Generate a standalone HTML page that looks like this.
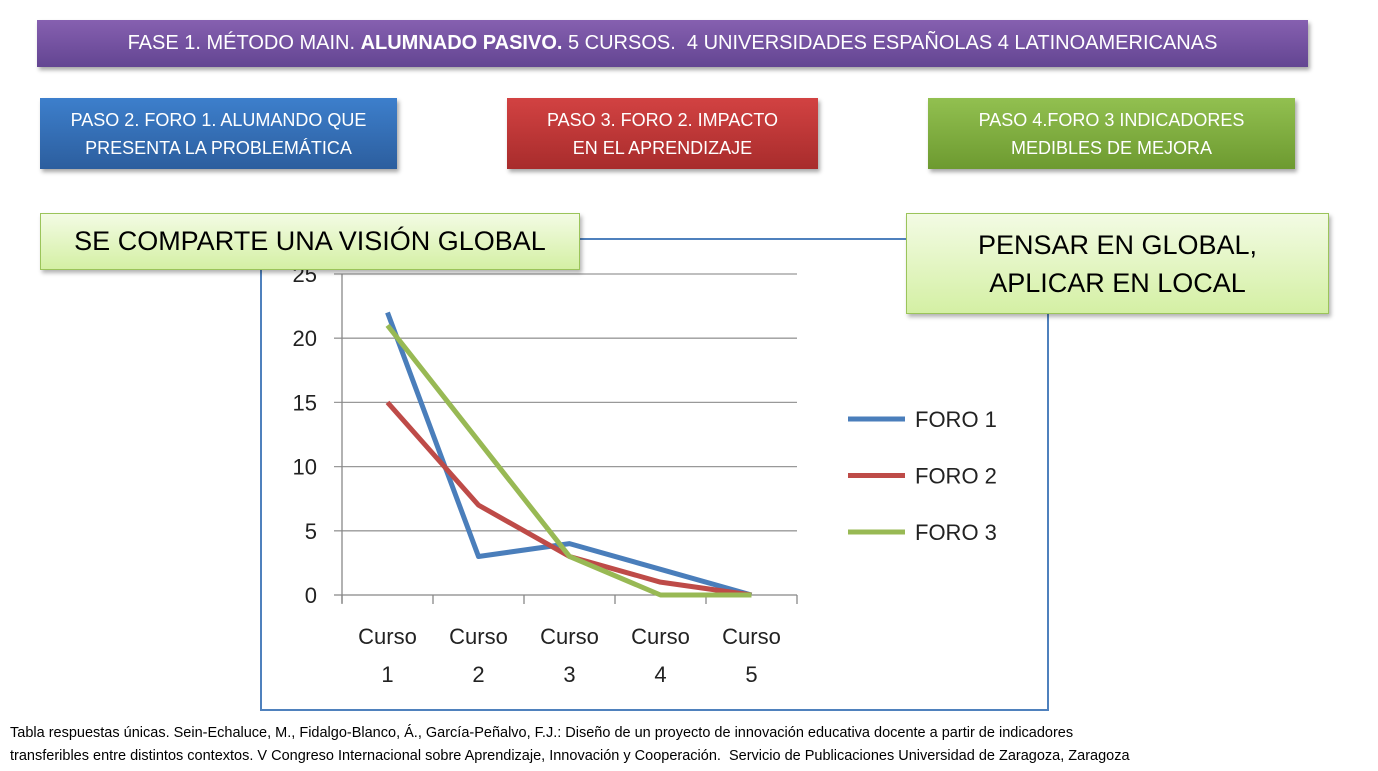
<!DOCTYPE html>
<html><head><meta charset="utf-8"><style>
body{margin:0;width:1378px;height:771px;background:#fff;position:relative;overflow:hidden;font-family:"Liberation Sans",sans-serif}
.box{position:absolute;color:#fff;text-align:center;display:flex;align-items:center;justify-content:center;box-shadow:2px 3px 4px rgba(0,0,0,0.35);box-sizing:border-box}
.green{position:absolute;background:linear-gradient(#f3fbe4,#d4f0a4);border:1px solid #9bc45a;color:#000;display:flex;align-items:center;justify-content:center;text-align:center;box-sizing:border-box;box-shadow:2px 3px 4px rgba(0,0,0,0.3)}
</style></head><body>
<div class="box" style="left:37px;top:20px;width:1271px;height:47px;background:linear-gradient(#8660b0,#634592);font-size:20px">FASE 1. MÉTODO MAIN.&nbsp;<b>ALUMNADO PASIVO.</b>&nbsp;5 CURSOS.&nbsp; 4 UNIVERSIDADES ESPAÑOLAS 4 LATINOAMERICANAS</div>
<div class="box" style="left:40px;top:98px;width:357px;height:71px;background:linear-gradient(#3d7fcc,#2c5e9e);font-size:18px;line-height:28px">PASO 2. FORO 1. ALUMANDO QUE<br>PRESENTA LA PROBLEMÁTICA</div>
<div class="box" style="left:507px;top:98px;width:311px;height:71px;background:linear-gradient(#d24242,#a82c2c);font-size:18px;line-height:28px">PASO 3. FORO 2. IMPACTO<br>EN EL APRENDIZAJE</div>
<div class="box" style="left:928px;top:98px;width:367px;height:71px;background:linear-gradient(#92c050,#6d9a30);font-size:18px;line-height:28px">PASO 4.FORO 3 INDICADORES<br>MEDIBLES DE MEJORA</div>
<svg id="chart" width="1378" height="771" style="position:absolute;left:0;top:0">
<rect x="261" y="239" width="787" height="471" fill="none" stroke="#4f81bd" stroke-width="2"/>
<g id="grid"></g><g id="lines"></g><g id="legend"></g>
</svg>
<div class="green" style="left:40px;top:213px;width:540px;height:57px;font-size:27px">SE COMPARTE UNA VISIÓN GLOBAL</div>
<div class="green" style="left:906px;top:213px;width:423px;height:101px;font-size:27px;line-height:38px">PENSAR EN GLOBAL,<br>APLICAR EN LOCAL</div>
<div style="position:absolute;left:10px;top:722px;font-size:14.5px;line-height:23px;color:#000;white-space:nowrap">Tabla respuestas únicas. Sein-Echaluce, M., Fidalgo-Blanco, Á., García-Peñalvo, F.J.: Diseño de un proyecto de innovación educativa docente a partir de indicadores<br>transferibles entre distintos contextos. V Congreso Internacional sobre Aprendizaje, Innovación y Cooperación.&nbsp; Servicio de Publicaciones Universidad de Zaragoza, Zaragoza</div>
<script>
const categories=["Curso 1","Curso 2","Curso 3","Curso 4","Curso 5"];
const foro1=[22,3,4,2,0];
const foro2=[15,7,3,1,0];
const foro3=[21,12,3,0,0];
const yTicks=[0,5,10,15,20,25];
const seriesNames=["FORO 1","FORO 2","FORO 3"];
const colors=["#4a7ebb","#be4b48","#98b954"];
const NS="http://www.w3.org/2000/svg";
const x0=342,x1=797,y0=595,y1=274,ymax=25;
const xs=i=>x0+(x1-x0)/categories.length*(i+0.5);
const ys=v=>y0-(y0-y1)*v/ymax;
function mk(t,a,p){const e=document.createElementNS(NS,t);for(const k in a)e.setAttribute(k,a[k]);p.appendChild(e);return e;}
const g=document.getElementById('grid');
yTicks.forEach(v=>{
 const l=mk('line',{x1:x0-8,x2:x1,y1:ys(v),y2:ys(v),stroke:v?'#999':'#888','stroke-width':1.3},g);
 
 
 const t=mk('text',{x:x0-25,y:ys(v)+8,'text-anchor':'end','font-size':22,fill:'#222'},g);
 t.textContent=v;
 
 
});
mk('line',{x1:x0,x2:x0,y1:y1,y2:y0+8,stroke:'#888','stroke-width':1.3},g);
for(let i=0;i<=categories.length;i++){const x=x0+(x1-x0)/categories.length*i;mk('line',{x1:x,x2:x,y1:y0,y2:y0+9,stroke:'#888','stroke-width':1.3},g);}
categories.forEach((c,i)=>{
 const p=c.split(' ');
 const t=mk('text',{x:xs(i),y:644,'text-anchor':'middle','font-size':22,fill:'#222'},g);
 
 
 mk('tspan',{x:xs(i),dy:0},t).textContent=p[0];
 mk('tspan',{x:xs(i),dy:38},t).textContent=p[1];
});
const L=document.getElementById('lines');
[foro1,foro2,foro3].forEach((s,k)=>{
 const pl=mk('polyline',{points:s.map((v,i)=>xs(i)+','+ys(v)).join(' '),fill:'none',stroke:colors[k],'stroke-width':5,'stroke-linejoin':'round'},L);
 
 
});
const lg=document.getElementById('legend');
seriesNames.forEach((n,k)=>{
 const y=419+k*56.5;
 const l=mk('line',{x1:848,x2:905,y1:y,y2:y,stroke:colors[k],'stroke-width':5},lg);
 
 
 const t=mk('text',{x:915,y:y+8,'font-size':22,fill:'#222'},lg);
 t.textContent=n;
 
 
});
</script>
</body></html>
